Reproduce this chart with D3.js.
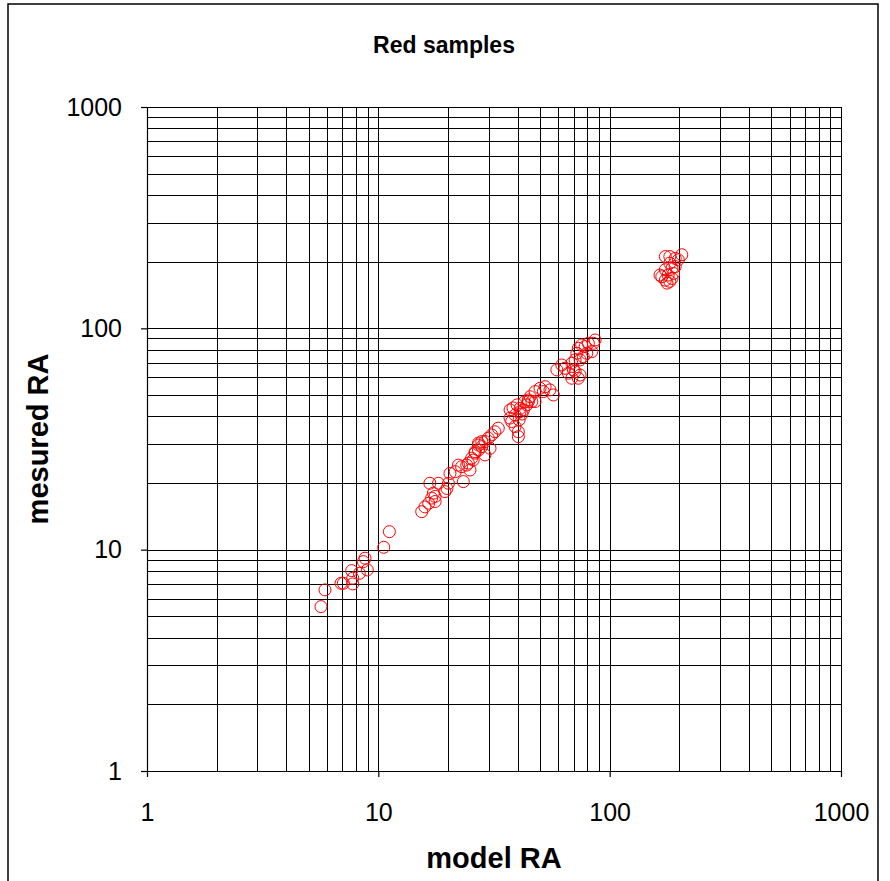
<!DOCTYPE html>
<html>
<head>
<meta charset="utf-8">
<script src="https://cdn.jsdelivr.net/npm/d3@7"></script>
<style>
  body { margin: 0; background: #fff; }
  text { font-family: 'Liberation Sans', Arial, sans-serif; }
</style>
</head>
<body>
<div id="chart"></div>
<script>
const title = 'Red samples';
const xLabel = 'model RA';
const yLabel = 'mesured RA';
const tickValues = [1, 10, 100, 1000];

const modelRA = [
  5.65, 5.88, 6.90, 7.06, 7.75, 7.75, 8.28, 7.67, 8.96, 8.61, 8.76, 10.55, 11.16,
  15.4, 15.9, 16.5, 17.0, 17.6, 17.3, 16.7, 18.2, 17.6, 19.4, 19.8, 20.1, 20.4,
  21.5, 22.2, 23.3, 22.9, 24.1, 24.9, 24.5, 25.7, 26.2, 27.1, 28.0, 27.1,
  40.3, 40.3, 39.0, 37.7, 37.1, 39.0, 41.0, 41.0, 42.4, 43.8, 46.1, 44.5,
  27.1, 28.0, 28.9, 29.9, 30.9, 31.9, 33.0, 26.2, 25.3, 28.9, 30.4,
  38.2, 39.8, 41.8, 37.1, 42.7, 40.6,
  47.6, 50.0, 52.6, 55.2, 57.1, 45.3, 44.5, 47.6, 51.7,
  59.1, 62.1, 64.1, 66.3, 68.6, 73.2, 74.5, 68.6, 70.9, 72.1, 73.2, 75.7, 78.3,
  80.9, 85.0, 86.5, 79.6, 76.9, 74.5, 69.7, 70.9, 83.7,
  205, 174, 182, 192, 198, 182, 186, 174, 192, 189, 179, 168, 174, 182, 177, 186, 165
];
const measuredRA = [
  5.53, 6.58, 7.05, 7.05, 7.0, 7.43, 7.82, 8.04, 8.10, 8.83, 9.15, 10.25, 12.06,
  14.85, 15.6, 16.2, 17.1, 17.4, 18.0, 19.95, 19.95, 16.5, 18.3, 18.9, 19.95, 22.1,
  22.5, 24.1, 20.3, 23.7, 24.1, 22.9, 24.6, 25.4, 27.3, 28.2, 29.2, 30.3,
  32.4, 34.1, 36.0, 37.9, 39.3, 40.6, 42.0, 43.5, 42.8, 45.1, 46.7, 47.5,
  29.7, 30.8, 30.8, 31.9, 33.0, 34.1, 35.4, 27.7, 25.9, 26.8, 28.7,
  43.7, 45.1, 41.0, 42.8, 46.5, 38.6,
  51.8, 53.6, 54.5, 52.7, 50.0, 49.1, 46.7, 46.7, 51.8,
  64.9, 68.3, 66.0, 62.7, 59.5, 59.5, 61.5, 69.6, 72.0, 77.2, 81.3, 84.1, 82.7,
  85.6, 85.6, 88.6, 77.2, 74.5, 72.0, 64.9, 63.8, 78.5,
  215, 211, 211, 207, 204, 197, 187, 184, 190, 177, 174, 171, 165, 163, 160, 168, 174
];

const width = 890;
const height = 881;
const margin = {left: 147, top: 107, right: 49, bottom: 110};
const plotWidth = width - margin.left - margin.right;
const plotHeight = height - margin.top - margin.bottom;

let gridValues = function() {
    let values = [];
    for (let decade = 1; decade < 1000; decade *= 10) {
        for (let step = 1; step < 10; step++) {
            values.push(decade * step);
        }
    }
    values.push(1000);
    return values;
}

let drawChart = function(parent) {
    let svg = d3.select('#' + parent).append('svg')
        .attr('width', width)
        .attr('height', height);

    svg.append('rect')
        .attr('x', 8).attr('y', 4)
        .attr('width', 870).attr('height', height + 10)
        .attr('fill', 'none')
        .attr('stroke', '#000')
        .attr('stroke-width', 1.5);

    svg.append('text')
        .attr('x', 444).attr('y', 53)
        .attr('text-anchor', 'middle')
        .attr('font-size', '23px')
        .attr('font-weight', 'bold')
        .text(title);

    let xScale = d3.scaleLog().domain([1, 1000]).range([0, plotWidth]);
    let yScale = d3.scaleLog().domain([1, 1000]).range([plotHeight, 0]);

    let chart = svg.append('g')
        .attr('transform', 'translate(' + margin.left + ',' + margin.top + ')');

    let grid = gridValues();
    chart.append('g').attr('class', 'grid')
        .selectAll('line.v').data(grid).enter().append('line')
        .attr('x1', d => Math.round(xScale(d)) + 0.5)
        .attr('x2', d => Math.round(xScale(d)) + 0.5)
        .attr('y1', 0).attr('y2', plotHeight)
        .attr('stroke', '#000').attr('stroke-width', 1);
    chart.append('g').attr('class', 'grid')
        .selectAll('line.h').data(grid).enter().append('line')
        .attr('y1', d => Math.round(yScale(d)) + 0.5)
        .attr('y2', d => Math.round(yScale(d)) + 0.5)
        .attr('x1', 0).attr('x2', plotWidth)
        .attr('stroke', '#000').attr('stroke-width', 1);

    let xAxis = d3.axisBottom(xScale).tickValues(tickValues).tickFormat(d3.format('d'))
        .tickSizeInner(6).tickSizeOuter(0).tickPadding(26);
    let yAxis = d3.axisLeft(yScale).tickValues(tickValues).tickFormat(d3.format('d'))
        .tickSizeInner(6).tickSizeOuter(0).tickPadding(19);

    let xg = chart.append('g')
        .attr('transform', 'translate(0,' + plotHeight + ')')
        .call(xAxis);
    let yg = chart.append('g').call(yAxis);
    [xg, yg].forEach(function(g) {
        g.selectAll('path, line').attr('stroke', '#000').attr('stroke-width', 1.2);
        g.selectAll('text')
            .attr('fill', '#000')
            .attr('font-size', '25px')
            .attr('font-family', "'Liberation Sans', Arial, sans-serif");
    });

    let points = modelRA.map((m, i) => ({model: m, measured: measuredRA[i]}));
    chart.append('g').selectAll('circle').data(points).enter().append('circle')
        .attr('cx', d => xScale(d.model))
        .attr('cy', d => yScale(d.measured))
        .attr('r', 6)
        .attr('fill', 'none')
        .attr('stroke', '#ff0000')
        .attr('stroke-width', 1);

    svg.append('text')
        .attr('x', margin.left + plotWidth / 2).attr('y', 868)
        .attr('text-anchor', 'middle')
        .attr('font-size', '29px')
        .attr('font-weight', 'bold')
        .text(xLabel);

    svg.append('text')
        .attr('transform', 'translate(48,' + (margin.top + plotHeight / 2) + ') rotate(-90)')
        .attr('text-anchor', 'middle')
        .attr('font-size', '29px')
        .attr('font-weight', 'bold')
        .text(yLabel);
}

drawChart('chart');
</script>
</body>
</html>
